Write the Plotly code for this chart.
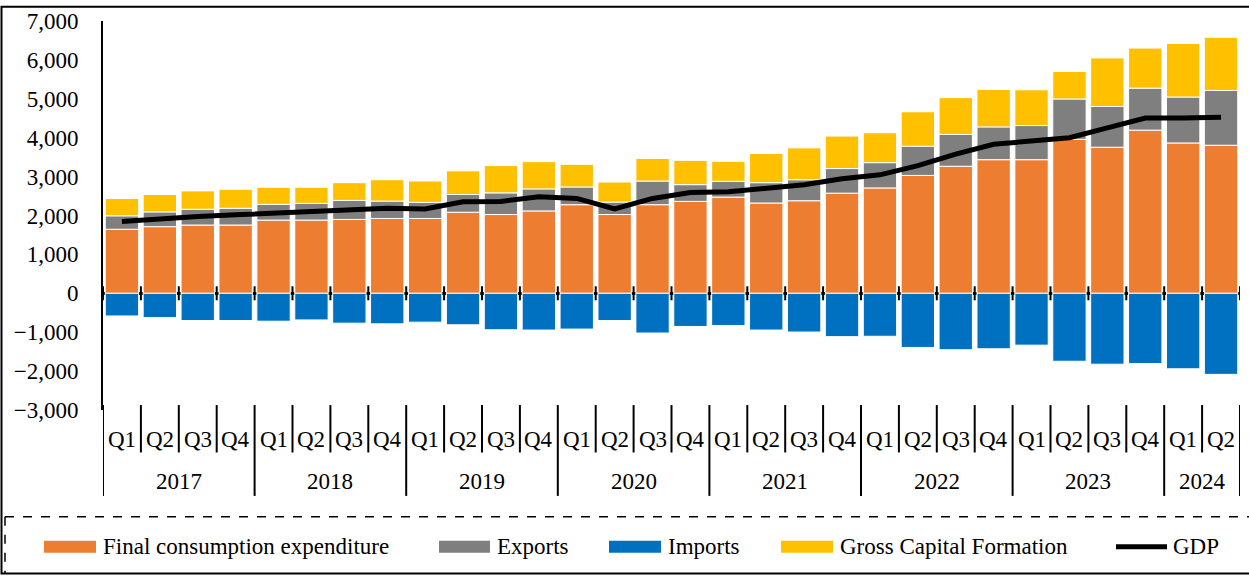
import plotly.graph_objects as go

# ---------------- data ----------------
years = ["2017"] * 4 + ["2018"] * 4 + ["2019"] * 4 + ["2020"] * 4 + ["2021"] * 4 + ["2022"] * 4 + ["2023"] * 4 + ["2024"] * 2
quarters = ["Q1", "Q2", "Q3", "Q4"] * 7 + ["Q1", "Q2"]
categories = [f"{y} {q}" for y, q in zip(years, quarters)]

final_consumption = [1646, 1713, 1755, 1755, 1882, 1882, 1899, 1924, 1924, 2084, 2025, 2118, 2278, 2025, 2278,
                     2363, 2473, 2321, 2380, 2574, 2709, 3030, 3266, 3435, 3435, 3958, 3755, 4194, 3865, 3806]
exports = [346, 380, 405, 430, 404, 430, 489, 447, 413, 456, 557, 566, 456, 321, 608,
           430, 405, 523, 540, 633, 650, 751, 818, 843, 877, 1038, 1047, 1080, 1181, 1409]
imports = [-582, -625, -700, -700, -717, -684, -768, -785, -742, -810, -937, -945, -920, -700, -1021,
           -852, -827, -945, -996, -1114, -1105, -1392, -1451, -1426, -1333, -1747, -1823, -1806, -1941, -2084]
gross_capital_formation = [446, 447, 473, 490, 440, 414, 456, 549, 549, 608, 701, 700, 582, 515, 582,
                           625, 514, 751, 819, 835, 768, 886, 946, 963, 920, 709, 1249, 1030, 1376, 1367]
gdp = [1848, 1916, 1975, 2017, 2059, 2076, 2118, 2185, 2169, 2354, 2363, 2481, 2439, 2169, 2439,
       2591, 2608, 2692, 2793, 2945, 3046, 3283, 3578, 3831, 3916, 4000, 4253, 4506, 4506, 4524]

y_ticks = [-3000, -2000, -1000, 0, 1000, 2000, 3000, 4000, 5000, 6000, 7000]

series_names = ["Final consumption expenditure", "Exports", "Imports", "Gross Capital Formation"]
series_colors = ["#ED7D31", "#7F7F7F", "#0070C0", "#FFC000"]

# ---------------- layout geometry (pixels) ----------------
W, H = 1249, 577
L, R, T, B = 103, 1240, 16, 410
FONT = "Liberation Serif"
FS = 23


def px_x(x):
    return (x - L) / (R - L)


def px_y(y):
    return (B - y) / (B - T)


fig = go.Figure()
for name, vals, col in zip(series_names, [final_consumption, exports, imports, gross_capital_formation], series_colors):
    fig.add_trace(go.Bar(x=categories, y=vals, name=name, marker=dict(color=col, line=dict(color="white", width=1)),
                         showlegend=False))
fig.add_trace(go.Scatter(x=categories, y=gdp, name="GDP", mode="lines",
                         line=dict(color="black", width=5), showlegend=False))

shapes = []
n = len(categories)
# tick marks across zero line
for k in range(n + 1):
    shapes.append(dict(type="line", xref="x", yref="y", x0=k - 0.5, x1=k - 0.5, y0=-180, y1=180,
                       line=dict(color="black", width=2)))
# separators under the axis
year_bounds = [0] + [i for i in range(1, n) if years[i] != years[i - 1]] + [n]
for k in range(n + 1):
    long = k in year_bounds
    shapes.append(dict(type="line", xref="x", yref="paper", x0=k - 0.5, x1=k - 0.5,
                       y0=px_y(405), y1=px_y(497 if long else 453),
                       line=dict(color="black", width=2)))

annotations = []
for c, q in zip(categories, quarters):
    annotations.append(dict(x=c, y=px_y(440), xref="x", yref="paper", text=q, showarrow=False,
                            font=dict(family=FONT, size=FS, color="black"), xanchor="center", yanchor="middle"))
for a, b in zip(year_bounds[:-1], year_bounds[1:]):
    annotations.append(dict(x=(a + b - 1) / 2, y=px_y(482), xref="x", yref="paper", text=years[a], showarrow=False,
                            font=dict(family=FONT, size=FS, color="black"), xanchor="center", yanchor="middle"))

# outer frame
shapes.append(dict(type="rect", xref="paper", yref="paper", x0=px_x(1.5), x1=px_x(1252), y0=px_y(1.5), y1=px_y(575.5),
                   line=dict(color="black", width=2), layer="above"))
# dashed legend frame
shapes.append(dict(type="line", xref="paper", yref="paper", x0=px_x(5), x1=px_x(1249), y0=px_y(518), y1=px_y(518),
                   line=dict(color="black", width=1.5, dash="dash")))
shapes.append(dict(type="line", xref="paper", yref="paper", x0=px_x(5), x1=px_x(5), y0=px_y(518), y1=px_y(575),
                   line=dict(color="black", width=1.5, dash="dash")))

# manual legend
legend_sym = [(44, 96), (439, 490), (609, 661), (781, 833)]
legend_txt = [101, 495, 666, 838]
for (x0, x1), tx, name, col in zip(legend_sym, legend_txt, series_names, series_colors):
    shapes.append(dict(type="rect", xref="paper", yref="paper", x0=px_x(x0), x1=px_x(x1), y0=px_y(542.5),
                       y1=px_y(554.5), fillcolor=col, line=dict(width=0)))
    annotations.append(dict(x=px_x(tx), y=px_y(548.5), xref="paper", yref="paper", text=name, showarrow=False,
                            font=dict(family=FONT, size=FS, color="black"), xanchor="left", yanchor="middle"))
shapes.append(dict(type="line", xref="paper", yref="paper", x0=px_x(1116), x1=px_x(1167), y0=px_y(548.5),
                   y1=px_y(548.5), line=dict(color="black", width=5)))
annotations.append(dict(x=px_x(1171), y=px_y(548.5), xref="paper", yref="paper", text="GDP", showarrow=False,
                        font=dict(family=FONT, size=FS, color="black"), xanchor="left", yanchor="middle"))

fig.update_layout(
    width=W, height=H, autosize=False,
    margin=dict(l=L, r=W - R, t=T, b=H - B, pad=0),
    paper_bgcolor="white", plot_bgcolor="white",
    barmode="relative", bargap=0.12,
    font=dict(family=FONT, size=FS, color="black"),
    xaxis=dict(type="category", range=[-0.5, n - 0.5], showticklabels=False, showgrid=False, showline=False,
               zeroline=False, ticks=""),
    yaxis=dict(range=[min(y_ticks), max(y_ticks)], tickvals=y_ticks, tickformat=",d", showgrid=False,
               showline=True, linecolor="black", linewidth=2,
               zeroline=True, zerolinecolor="black", zerolinewidth=3,
               ticks="outside", ticklen=18, tickcolor="rgba(0,0,0,0)",
               tickfont=dict(family=FONT, size=FS, color="black")),
    shapes=shapes, annotations=annotations,
)

post = ("document.body.style.margin='0';document.body.style.padding='0';"
        "document.body.style.overflow='hidden';"
        "var d=document.getElementById('{plot_id}');d.style.position='absolute';"
        "d.style.left='0px';d.style.top='0px';")
fig.write_html("out.html", post_script=post, config={"displayModeBar": False})
